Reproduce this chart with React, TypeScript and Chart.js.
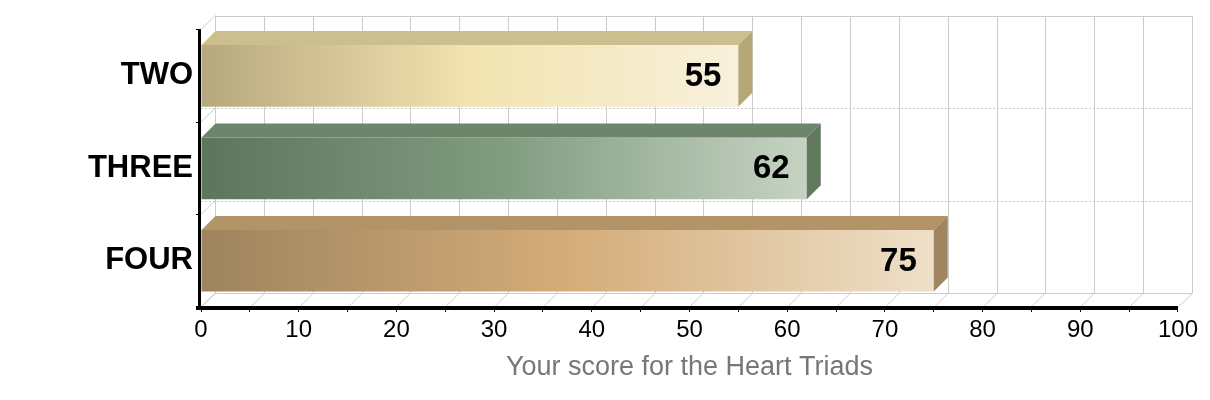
import React, { useEffect, useRef } from 'react';
import { Chart, registerables } from 'chart.js';

Chart.register(...registerables);

const categories = ['TWO', 'THREE', 'FOUR'];
const scores = [55, 62, 75];
const axisTitle = 'Your score for the Heart Triads';
const xMin = 0;
const xMax = 100;
const xStep = 5;
const xLabelEvery = 10;

const frontStops = [
  ['#b6a87e', '#f2e4b0', '#f8f0dc'],
  ['#5d745d', '#819c81', '#c6d3c3'],
  ['#9e845e', '#d4ac79', '#eee0c8'],
];
const topColors = ['#cbbf8f', '#6d866b', '#b39468'];
const sideColors = ['#b6a676', '#627960', '#a08660'];

const DEPTH = 14;
const FONT = '"Liberation Sans", Arial, Helvetica, sans-serif';

const threeD = {
  id: 'threeD',
  beforeDatasetsDraw(chart: any) {
    const { ctx, chartArea, scales } = chart;
    const { left, right, top, bottom } = chartArea;
    const x = scales.x;
    const y = scales.y;
    const d = DEPTH;
    ctx.save();
    ctx.strokeStyle = '#cccccc';
    ctx.lineWidth = 1;
    for (let v = xMin; v <= xMax; v += xStep) {
      const px = Math.round(x.getPixelForValue(v)) + 0.5;
      ctx.beginPath();
      ctx.moveTo(px + d, top - d);
      ctx.lineTo(px + d, bottom - d);
      ctx.stroke();
      ctx.beginPath();
      ctx.moveTo(px, bottom);
      ctx.lineTo(px + d, bottom - d);
      ctx.stroke();
    }
    const tY = Math.round(top - d) + 0.5;
    const bY = Math.round(bottom - d) + 0.5;
    ctx.beginPath();
    ctx.moveTo(left + d, tY);
    ctx.lineTo(right + d, tY);
    ctx.moveTo(left + d, bY);
    ctx.lineTo(right + d, bY);
    ctx.stroke();
    const bounds: number[] = [];
    for (let i = 0; i <= categories.length; i++) bounds.push(y.getPixelForValue(i - 0.5));
    bounds.forEach((b) => {
      ctx.beginPath();
      ctx.moveTo(left, b);
      ctx.lineTo(left + d, b - d);
      ctx.stroke();
    });
    ctx.setLineDash([2, 2]);
    bounds.slice(1, -1).forEach((b) => {
      const yy = Math.round(b - d) + 0.5;
      ctx.beginPath();
      ctx.moveTo(left, yy);
      ctx.lineTo(right + d, yy);
      ctx.stroke();
    });
    ctx.restore();
  },
  afterDatasetsDraw(chart: any) {
    const { ctx } = chart;
    const d = DEPTH;
    const meta = chart.getDatasetMeta(0);
    ctx.save();
    meta.data.forEach((bar: any, i: number) => {
      const p = bar.getProps(['x', 'y', 'base', 'height'], true);
      const t = p.y - p.height / 2;
      const b = p.y + p.height / 2;
      ctx.fillStyle = topColors[i];
      ctx.beginPath();
      ctx.moveTo(p.base, t);
      ctx.lineTo(p.x, t);
      ctx.lineTo(p.x + d, t - d);
      ctx.lineTo(p.base + d, t - d);
      ctx.closePath();
      ctx.fill();
      ctx.fillStyle = sideColors[i];
      ctx.beginPath();
      ctx.moveTo(p.x, t);
      ctx.lineTo(p.x + d, t - d);
      ctx.lineTo(p.x + d, b - d);
      ctx.lineTo(p.x, b);
      ctx.closePath();
      ctx.fill();
      ctx.fillStyle = '#000';
      ctx.font = 'bold 33px ' + FONT;
      ctx.textAlign = 'right';
      ctx.textBaseline = 'middle';
      ctx.fillText(String(scores[i]), p.x - 17, p.y + 1);
    });
    ctx.restore();
  },
  afterDraw(chart: any) {
    const { ctx, chartArea } = chart;
    const { left, right, top, bottom } = chartArea;
    ctx.save();
    ctx.fillStyle = '#000';
    ctx.fillRect(left - 3, top, 3, bottom + 3 - top);
    ctx.fillRect(left - 5, bottom - 1, right - left + 5, 4);
    ctx.restore();
  },
};

export default function App() {
  const ref = useRef<HTMLCanvasElement | null>(null);
  useEffect(() => {
    if (!ref.current) return;
    const chart = new Chart(ref.current, {
      type: 'bar',
      data: {
        labels: categories,
        datasets: [
          {
            data: scores,
            backgroundColor: (c: any) => {
              const ch = c.chart;
              const xs = ch.scales && ch.scales.x;
              const idx = c.dataIndex ?? 0;
              const stops = frontStops[idx] || frontStops[0];
              if (!ch.chartArea || !xs || c.raw == null) return stops[1];
              const x0 = xs.getPixelForValue(0);
              const x1 = xs.getPixelForValue(c.raw);
              const g = ch.ctx.createLinearGradient(x0, 0, x1, 0);
              g.addColorStop(0, stops[0]);
              g.addColorStop(0.5, stops[1]);
              g.addColorStop(1, stops[2]);
              return g;
            },
            borderWidth: 0,
            barPercentage: 0.667,
            categoryPercentage: 1,
          },
        ],
      },
      options: {
        indexAxis: 'y',
        responsive: false,
        animation: false,
        layout: { padding: { left: 0, right: 21, top: 20, bottom: 0 } },
        plugins: {
          legend: { display: false },
          tooltip: { enabled: false },
        },
        scales: {
          x: {
            type: 'linear',
            min: xMin,
            max: xMax,
            afterFit: (s: any) => {
              s.height = 85;
            },
            ticks: {
              stepSize: xStep,
              autoSkip: false,
              maxRotation: 0,
              padding: 4,
              color: '#000',
              font: { family: FONT, size: 24 },
              callback: (v: any) => (Number(v) % xLabelEvery === 0 ? String(v) : ''),
            },
            grid: {
              drawOnChartArea: false,
              drawTicks: true,
              tickLength: 5,
              tickColor: '#000',
              color: '#000',
            },
            border: { display: false },
            title: {
              display: true,
              text: axisTitle,
              color: '#777777',
              font: { family: FONT, size: 27 },
              padding: { top: 0, bottom: 8 },
            },
          },
          y: {
            type: 'category',
            afterFit: (s: any) => {
              s.width = 193;
            },
            ticks: {
              padding: 3,
              color: '#000',
              font: { family: FONT, size: 31, weight: 'bold' },
            },
            grid: {
              drawOnChartArea: false,
              drawTicks: true,
              tickLength: 5,
              tickColor: '#000',
              color: '#000',
              offset: true,
            },
            border: { display: false },
          },
        },
      },
      plugins: [threeD],
    } as any);
    return () => chart.destroy();
  }, []);
  return (
    <div style={{ width: 1194, height: 384 }}>
      <canvas ref={ref} width={1194} height={384} style={{ display: 'block' }} />
    </div>
  );
}
